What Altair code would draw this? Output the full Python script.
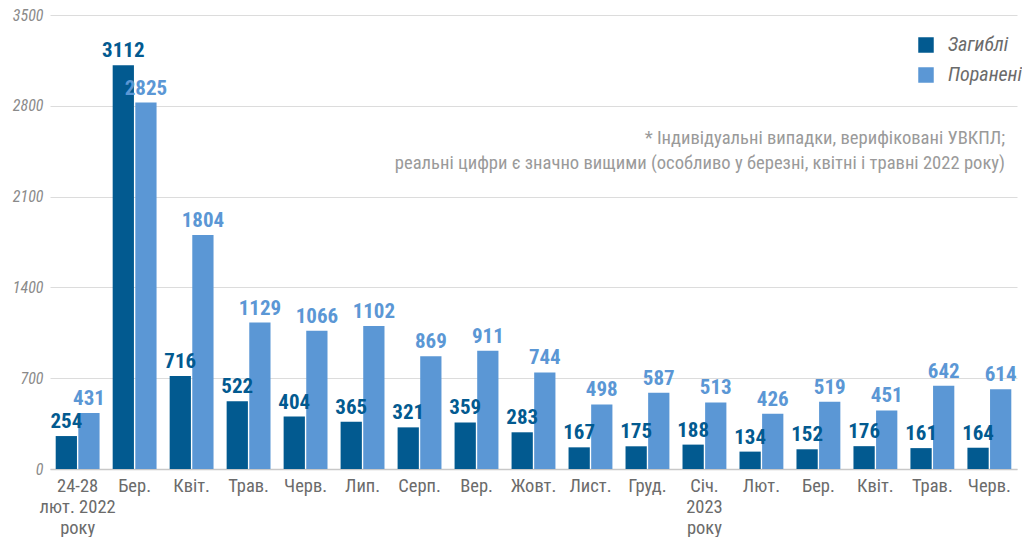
import altair as alt
import pandas as pd
import json

months = ["24-28|лют. 2022|року", "Бер.", "Квіт.", "Трав.", "Черв.", "Лип.", "Серп.", "Вер.",
          "Жовт.", "Лист.", "Груд.", "Січ.|2023|року", "Лют.", "Бер.", "Квіт.", "Трав.", "Черв."]
killed = [254, 3112, 716, 522, 404, 365, 321, 359, 283, 167, 175, 188, 134, 152, 176, 161, 164]
injured = [431, 2825, 1804, 1129, 1066, 1102, 869, 911, 744, 498, 587, 513, 426, 519, 451, 642, 614]
series = ["Загиблі", "Поранені"]
y_ticks = [0, 700, 1400, 2100, 2800, 3500]
note = ["* Індивідуальні випадки, верифіковані УВКПЛ;",
        "реальні цифри є значно вищими (особливо у березні, квітні і травні 2022 року)"]

rows = []
for i in range(len(months)):
    rows.append({"idx": i, "series": series[0], "value": killed[i]})
    rows.append({"idx": i, "series": series[1], "value": injured[i]})
df = pd.DataFrame(rows)

FONT = "Roboto Condensed, Liberation Sans Narrow, DejaVu Sans Condensed, Roboto, sans-serif"
DARK = "#025a90"
LIGHT = "#5b97d5"
label_expr = "split(" + json.dumps(months, ensure_ascii=False) + "[datum.value], '|')"

color_scale = alt.Scale(domain=series, range=[DARK, LIGHT])

base = alt.Chart(df).encode(
    x=alt.X("idx:O", title=None,
            scale=alt.Scale(paddingInner=0.23, paddingOuter=0.1),
            axis=alt.Axis(labelExpr=label_expr, labelAngle=0, labelFontSize=18.5,
                          labelColor="#6b6b6b", labelPadding=7, labelLineHeight=21,
                          ticks=False, domainColor="#c8c8c8", domainWidth=1.5,
                          labelFont=FONT)),
    xOffset=alt.XOffset("series:N", sort=series, scale=alt.Scale(paddingInner=0.06)),
)

bars = base.mark_bar().encode(
    y=alt.Y("value:Q", title=None,
            scale=alt.Scale(domain=[0, 3500], nice=False),
            axis=alt.Axis(values=y_ticks, format="d", labelFontSize=16,
                          labelFontStyle="italic",
                          labelColor="#8a8a8a", labelPadding=7, ticks=False, domain=False,
                          gridColor="#dcdcdc", labelFont=FONT)),
    color=alt.Color("series:N", scale=color_scale, sort=series, title=None,
                    legend=alt.Legend(orient="none", legendX=866, legendY=20,
                                      symbolType="square", symbolSize=240,
                                      symbolStrokeWidth=0, labelFontSize=20,
                                      labelFontStyle="italic", labelColor="#6b6b6b",
                                      labelFont=FONT, rowPadding=10, labelOffset=12,
                                      padding=0)),
)

labels = base.mark_text(dy=-4, baseline="bottom", fontSize=21, fontWeight="bold",
                        font=FONT).encode(
    y=alt.Y("value:Q"),
    text=alt.Text("value:Q"),
    color=alt.Color("series:N", scale=color_scale, sort=series, legend=None),
)

note_df = pd.DataFrame({"t": [note]})
annot = alt.Chart(note_df).mark_text(align="right", baseline="middle", fontSize=18.6,
                                     color="#9a9a9a", font=FONT, lineHeight=24.5).encode(
    x=alt.value(955), y=alt.value(123), text="t"
)

chart = alt.layer(bars, labels, annot).properties(
    width=967, height=454,
    autosize=alt.AutoSizeParams(type="none"),
    padding={"left": 42, "top": 7, "right": 5, "bottom": 68},
).configure_view(stroke=None).configure_axis(grid=True).configure_axisX(grid=False)

chart.save("out.html", embed_options={"renderer": "svg", "actions": False})
